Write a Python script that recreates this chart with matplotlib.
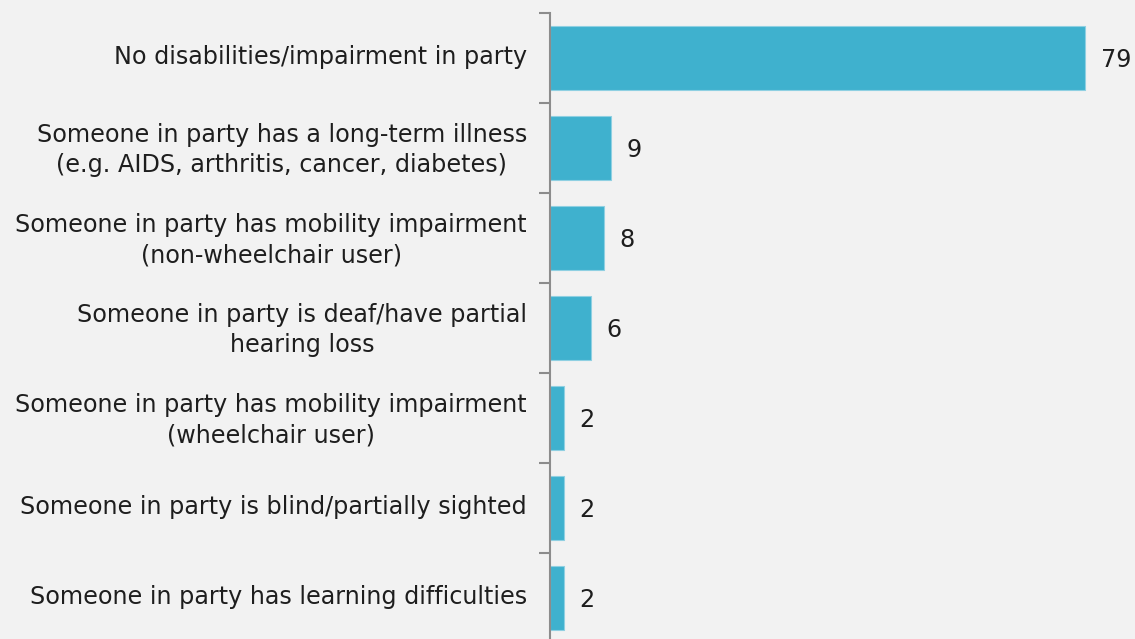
import matplotlib
matplotlib.use("Agg")
import matplotlib.pyplot as plt

categories = [
    "No disabilities/impairment in party",
    "Someone in party has a long-term illness\n(e.g. AIDS, arthritis, cancer, diabetes)",
    "Someone in party has mobility impairment\n(non-wheelchair user)",
    "Someone in party is deaf/have partial\nhearing loss",
    "Someone in party has mobility impairment\n(wheelchair user)",
    "Someone in party is blind/partially sighted",
    "Someone in party has learning difficulties",
]
values = [79, 9, 8, 6, 2, 2, 2]

bg = "#f2f2f2"
W, H = 1135, 639
fig = plt.figure(figsize=(W / 100, H / 100), dpi=100, facecolor=bg)
left = 550 / W
right = 1135 / W
top = 1 - 13 / H
bottom = 1 - 643 / H
ax = fig.add_axes([left, bottom, right - left, top - bottom], facecolor=bg)

n = len(categories)
ypos = list(range(n))
ax.barh(ypos, values, height=0.71, color="#3fb1ce", edgecolor="#8fd0e2", linewidth=0.8, zorder=2)
ax.set_ylim(n - 0.5, -0.5)
xmax = 79 * (1135 - 550) / (1085 - 550)
ax.set_xlim(0, xmax)

font = "DejaVu Sans"
fs = 17.2
for y, v in zip(ypos, values):
    ax.text(v + 2.3, y + 0.02, str(v), va="center", ha="left",
            fontsize=fs, color="#1e1e1e", family=font)

ax.set_yticks([i - 0.5 for i in range(n + 1)])
ax.set_yticklabels([])
ax.set_yticks([y - 0.035 for y in ypos], minor=True)
ax.set_yticklabels(categories, minor=True, fontsize=fs, family=font, color="#1e1e1e",
                   linespacing=1.3)
ax.tick_params(axis="y", which="major", length=8, width=1.5, color="#8c8c8c", direction="out")
ax.tick_params(axis="y", which="minor", length=0, pad=16.5)
for lbl in ax.get_yticklabels(minor=True):
    lbl.set_horizontalalignment("right")
    lbl.set_multialignment("center")
ax.set_xticks([])
for s in ["top", "right", "bottom"]:
    ax.spines[s].set_visible(False)
ax.spines["left"].set_color("#8c8c8c")
ax.spines["left"].set_linewidth(1.5)

fig.savefig("out.png", dpi=100, facecolor=bg)
